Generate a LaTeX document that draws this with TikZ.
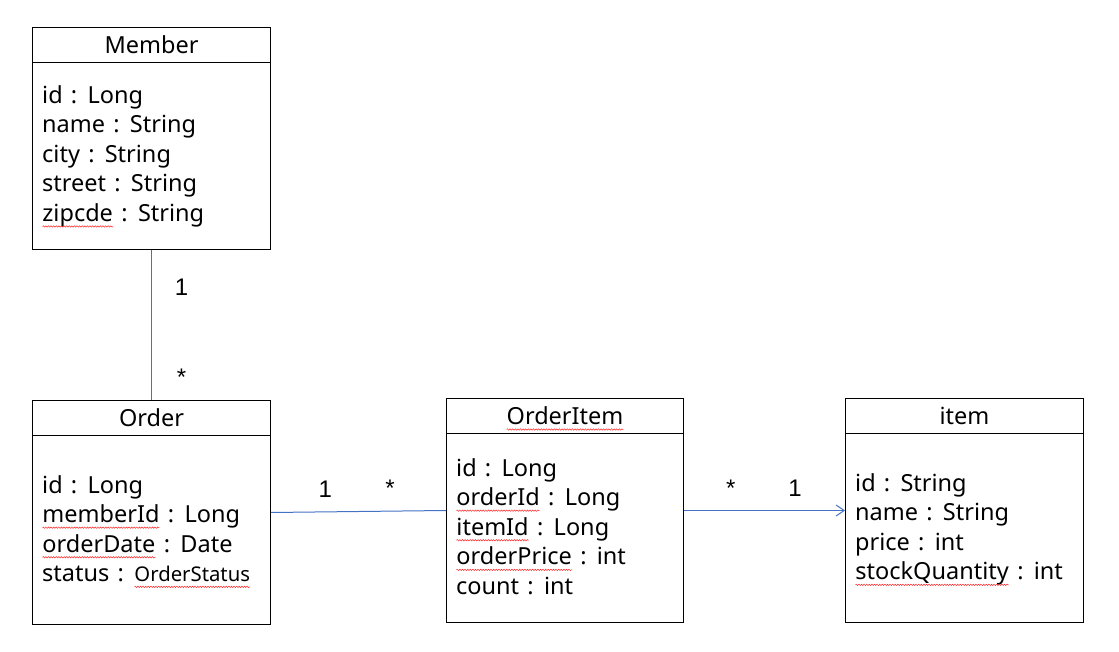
\documentclass[tikz,border=0pt]{standalone}
\usepackage{fontspec}
\setmainfont{Noto Sans}[WordSpace=1.35]
\newfontfamily\multfont{Liberation Sans}
\usetikzlibrary{positioning, arrows.meta, decorations.pathmorphing}
\definecolor{linkblue}{HTML}{4472C4}

\newcommand{\spell}[1]{\tikz[baseline=(sw.base)]{\node[inner sep=0pt, outer sep=0pt] (sw) {#1};
    \draw[red!85, line width=0.5pt, decorate, decoration={snake, amplitude=0.7pt, segment length=2.6pt}]
        ([yshift=-5pt]sw.base west) -- ([yshift=-5pt]sw.base east);}}

\begin{document}
\begin{tikzpicture}
        [
        x=1pt, y=-1pt,
        every node/.style = {font=\fontsize{23.5}{29.6}\selectfont},
        classbox/.style = {draw, line width=1pt, anchor=north west, inner sep=0pt},
        classtitle/.style = {minimum height=35pt, inner sep=0pt},
        attrs/.style = {anchor=north west, align=left, inner sep=0pt},
        mult/.style = {font=\multfont\fontsize{24}{26}\selectfont, text=black, inner sep=0pt},
        assoc/.style = {linkblue, line width=1pt}
        ]
    \useasboundingbox (0,0) rectangle (1119,652);

    \node[classbox, minimum width=238pt, minimum height=222pt] (member) at (32,27) {};
    \node[classbox, minimum width=238pt, minimum height=224pt] (order) at (32,400) {};
    \node[classbox, minimum width=237pt, minimum height=224pt] (orderitem) at (446,398) {};
    \node[classbox, minimum width=238pt, minimum height=224pt] (item) at (845,398) {};

    \node[classtitle, below=0pt of member.north] (membertitle) {Member};
    \node[classtitle, below=0pt of order.north] (ordertitle) {Order};
    \node[classtitle, below=0pt of orderitem.north] (orderitemtitle) {\spell{OrderItem}};
    \node[classtitle, below=0pt of item.north] (itemtitle) {item};

    \draw[line width=1pt] (membertitle.south -| member.west) -- (membertitle.south -| member.east);
    \draw[line width=1pt] (ordertitle.south -| order.west) -- (ordertitle.south -| order.east);
    \draw[line width=1pt] (orderitemtitle.south -| orderitem.west) -- (orderitemtitle.south -| orderitem.east);
    \draw[line width=1pt] (itemtitle.south -| item.west) -- (itemtitle.south -| item.east);

    \node[attrs] (memberattrs) at (42,85) {id : Long\\ name : String\\ city : String\\ street : String\\ \spell{zipcde} : String};
    \node[attrs] (orderattrs) at (42,475) {id : Long\\ \spell{memberId} : Long\\ \spell{orderDate} : Date\\ status : \spell{\fontsize{20.3}{24}\selectfont OrderStatus}};
    \node[attrs] (orderitemattrs) at (456,458) {id : Long\\ \spell{orderId} : Long\\ \spell{itemId} : Long\\ \spell{orderPrice} : int\\ count : int};
    \node[attrs] (itemattrs) at (855,473) {id : String\\ name : String\\ price : int\\ \spell{stockQuantity} : int};

    % associations
    \draw[assoc, line width=0.8pt] (member.south) -- node[mult, pos=0.25, right=23pt] {1} node[mult, pos=0.85, right=25pt] {*} (order.north);
    \draw[assoc] (order.east) -- node[mult, pos=0.31, above=14pt] {1} node[mult, pos=0.68, above=14pt] {*} (orderitem.west);
    \draw[assoc, -{Straight Barb[length=8pt, width=11pt]}] (orderitem.east) -- node[mult, pos=0.29, above=14pt] {*} node[mult, pos=0.69, above=14pt] {1} (item.west);
\end{tikzpicture}
\end{document}
